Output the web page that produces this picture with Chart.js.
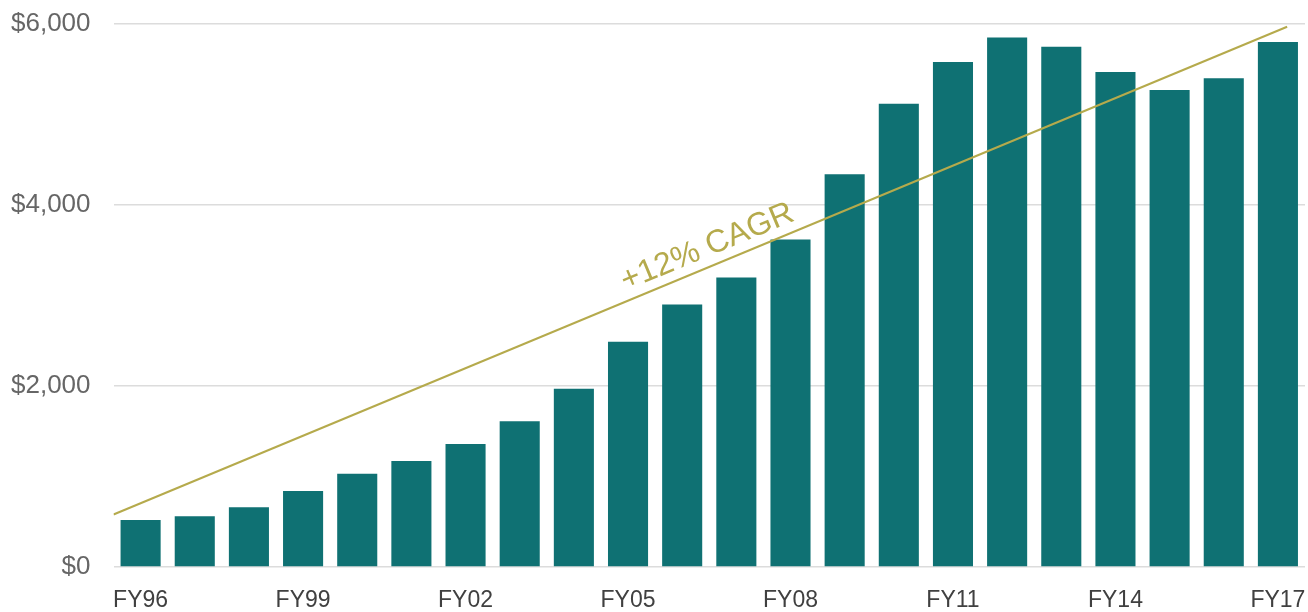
<!DOCTYPE html>
<html>
<head>
<meta charset="utf-8">
<script src="https://cdn.jsdelivr.net/npm/chart.js@4.4.1/dist/chart.umd.min.js"></script>
<style>
  html, body { margin: 0; padding: 0; background: #fff; }
  #wrap { width: 1308px; height: 612px; position: relative; }
</style>
</head>
<body>
<div id="wrap"><canvas id="chart"></canvas></div>
<script>
// fiscal years and values ($)
const years = ['FY96', 'FY97', 'FY98', 'FY99', 'FY00', 'FY01', 'FY02', 'FY03', 'FY04', 'FY05', 'FY06',
  'FY07', 'FY08', 'FY09', 'FY10', 'FY11', 'FY12', 'FY13', 'FY14', 'FY15', 'FY16', 'FY17'];
const amounts = [520, 560, 660, 840, 1030, 1170, 1360, 1610, 1970, 2490, 2900,
  3200, 3620, 4340, 5120, 5580, 5850, 5750, 5470, 5270, 5400, 5800];

// CAGR trend line: start/end in (category index, value)
const trendX = [-0.5, 21.17];
const trendY = [580, 5970];
const trendLabel = '+12% CAGR';
const trendLabelAt = 9.03; // category index where label starts

const yTicks = [0, 2000, 4000, 6000];

const barColor = '#0f7173';
const trendColor = '#b5aa4c';

const cagrLabelPlugin = {
  id: 'cagrLabel',
  afterDatasetsDraw(chart) {
    const xs = chart.scales.x2;
    const ys = chart.scales.y;
    const x0 = xs.getPixelForValue(trendX[0]), y0 = ys.getPixelForValue(trendY[0]);
    const x1 = xs.getPixelForValue(trendX[1]), y1 = ys.getPixelForValue(trendY[1]);
    const angle = Math.atan2(y1 - y0, x1 - x0);
    const t = (trendLabelAt - trendX[0]) / (trendX[1] - trendX[0]);
    const px = x0 + (x1 - x0) * t;
    const py = y0 + (y1 - y0) * t;
    const ctx = chart.ctx;
    ctx.save();
    ctx.translate(px, py);
    ctx.rotate(angle);
    ctx.fillStyle = trendColor;
    ctx.font = '32px "Liberation Sans", Arial, sans-serif';
    ctx.textAlign = 'left';
    ctx.textBaseline = 'alphabetic';
    ctx.fillText(trendLabel, 0, -10);
    ctx.restore();
  }
};

new Chart(document.getElementById('chart'), {
  type: 'bar',
  data: {
    labels: years,
    datasets: [{
      label: 'Amount',
      data: amounts,
      backgroundColor: barColor,
      borderWidth: 0,
      grouped: false,
      categoryPercentage: 1,
      barPercentage: 0.74,
      order: 2
    }, {
      type: 'line',
      label: 'CAGR',
      data: trendX.map((x, i) => ({ x: x, y: trendY[i] })),
      xAxisID: 'x2',
      borderColor: trendColor,
      borderWidth: 2,
      pointRadius: 0,
      pointHoverRadius: 0,
      fill: false,
      order: 1
    }]
  },
  options: {
    responsive: true,
    maintainAspectRatio: false,
    animation: false,
    layout: { autoPadding: false, padding: { left: 11, right: 3, top: 24, bottom: 0 } },
    plugins: {
      legend: { display: false },
      tooltip: { enabled: false }
    },
    scales: {
      x: {
        grid: { display: false, drawTicks: false },
        border: { display: false },
        // chart.js counts tick padding twice; keep just one gap
        afterFit: (axis) => { axis.paddingLeft = 0; axis.paddingRight = 0; axis.height -= 22; },
        ticks: {
          autoSkip: false,
          maxRotation: 0,
          padding: 22,
          color: '#404040',
          font: { family: '"Liberation Sans", Arial, sans-serif', size: 23, lineHeight: 1 },
          callback: function (value, index) {
            return index % 3 === 0 ? this.getLabelForValue(value) : '';
          }
        }
      },
      x2: {
        type: 'linear',
        display: false,
        offset: false,
        min: -0.5,
        max: years.length - 0.5
      },
      y: {
        min: 0,
        max: 6000,
        afterBuildTicks: (axis) => { axis.ticks = yTicks.map(v => ({ value: v })); },
        afterFit: (axis) => { axis.paddingTop = 0; axis.paddingBottom = 0; axis.width -= 23; },
        grid: { color: '#dcdcdc', lineWidth: 1.5, drawTicks: false },
        border: { display: false },
        ticks: {
          padding: 23,
          color: '#666666',
          font: { family: '"Liberation Sans", Arial, sans-serif', size: 26 },
          callback: (v) => '$' + v.toLocaleString('en-US')
        }
      }
    }
  },
  plugins: [cagrLabelPlugin]
});
</script>
</body>
</html>
